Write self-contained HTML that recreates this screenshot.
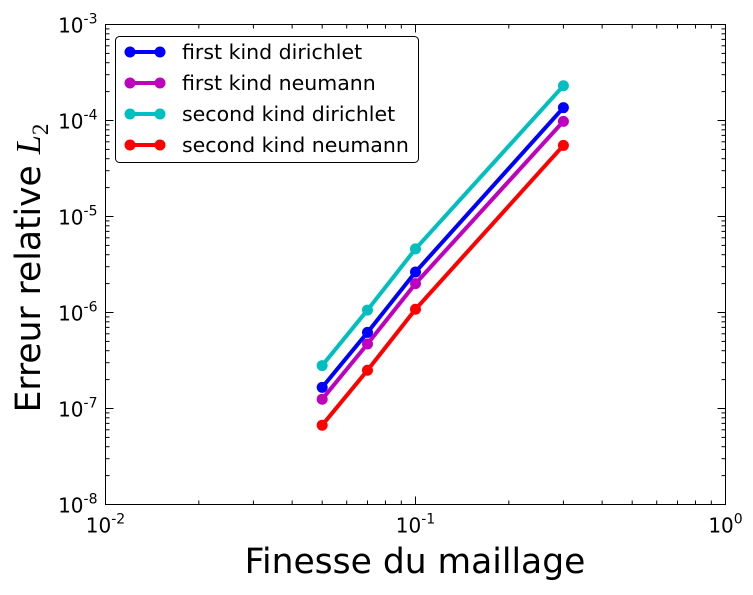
<!DOCTYPE html>
<html><head><meta charset="utf-8"><style>
html,body{margin:0;padding:0;background:#fff;}
svg text{font-family:"DejaVu Sans","Liberation Sans",sans-serif;}
</style></head><body>
<svg id="chart" width="753" height="590" xmlns="http://www.w3.org/2000/svg">
<rect width="753" height="590" fill="#fff"/>
<g id="grid"></g>
<g id="series"></g>
<rect x="105.5" y="24.5" width="620" height="480" fill="none" stroke="#000" stroke-width="1"/>
<text x="415" y="573" font-size="34.5" text-anchor="middle">Finesse du maillage</text>
<text transform="translate(40,268) rotate(-90)" font-size="34.5" text-anchor="middle">Erreur relative <tspan font-family="Liberation Serif" font-style="italic">L</tspan><tspan font-family="Liberation Serif" font-size="23" dy="8">2</tspan></text>
<g id="legend">
<rect x="115.5" y="36.5" width="303" height="126" rx="4" fill="#fff" stroke="#000"/>
</g>
</svg>
<script>
const xValues=[0.05,0.07,0.1,0.3];
const seriesNames=["first kind dirichlet","first kind neumann","second kind dirichlet","second kind neumann"];
const seriesColors=["#0000ff","#bf00bf","#00bfbf","#ff0000"];
const firstDirichlet=[1.66e-7,6.2e-7,2.64e-6,1.36e-4];
const firstNeumann=[1.25e-7,4.7e-7,2.0e-6,9.8e-5];
const secondDirichlet=[2.8e-7,1.06e-6,4.6e-6,2.3e-4];
const secondNeumann=[6.7e-8,2.5e-7,1.08e-6,5.5e-5];
const xTickExps=[-2,-1,0];
const yTickExps=[-8,-7,-6,-5,-4,-3];
const NS="http://www.w3.org/2000/svg";
const L=105.5,R=725.5,T=24.5,B=504.5;
const xs=v=>L+(Math.log10(v)+2)/2*(R-L);
const ys=v=>B-(Math.log10(v)+8)/5*(B-T);
function mk(t,a,p){const e=document.createElementNS(NS,t);for(const k in a)e.setAttribute(k,a[k]);(p||document.getElementById('grid')).appendChild(e);return e;}
for(let d=-2;d<0;d++){for(let m=1;m<10;m++){const v=m*Math.pow(10,d);const x=xs(v);const len=m==1?8:4;
const t1=mk('line',{x1:x,x2:x,y1:B,y2:B-len,stroke:'#000'});
const t2=mk('line',{x1:x,x2:x,y1:T,y2:T+len,stroke:'#000'});}}
xTickExps.forEach(e=>{const x=xs(Math.pow(10,e));const t=mk('text',{x:x,y:B+28,'font-size':20,'text-anchor':'middle'});
t.innerHTML='10<tspan font-size="14" dy="-9">'+e+'</tspan>';});
for(let d=-8;d<-3;d++){for(let m=1;m<10;m++){const v=m*Math.pow(10,d);const y=ys(v);const len=m==1?8:4;
const t1=mk('line',{x1:L,x2:L+len,y1:y,y2:y,stroke:'#000'});
const t2=mk('line',{x1:R,x2:R-len,y1:y,y2:y,stroke:'#000'});}}
yTickExps.forEach(e=>{const y=ys(Math.pow(10,e));const t=mk('text',{x:L-8,y:y+8,'font-size':20,'text-anchor':'end'});
t.innerHTML='10<tspan font-size="14" dy="-9">'+e+'</tspan>';});
const allSeries=[firstDirichlet,firstNeumann,secondDirichlet,secondNeumann];
const sg=document.getElementById('series');
allSeries.forEach((vals,i)=>{const pts=vals.map((v,j)=>xs(xValues[j])+','+ys(v)).join(' ');
const pl=mk('polyline',{points:pts,fill:'none',stroke:seriesColors[i],'stroke-width':4},sg);

vals.forEach((v,j)=>{const c=mk('circle',{cx:xs(xValues[j]),cy:ys(v),r:5.5,fill:seriesColors[i]},sg);
});});
const lg=document.getElementById('legend');
seriesNames.forEach((n,i)=>{const y=52+i*31;
const l=mk('line',{x1:130,x2:160,y1:y,y2:y,stroke:seriesColors[i],'stroke-width':4},lg);
[130,160].forEach(x=>{const c=mk('circle',{cx:x,cy:y,r:5.5,fill:seriesColors[i]},lg);});
const t=mk('text',{x:182,y:y+7,'font-size':20.5},lg);t.textContent=n;});
</script>
</body></html>
